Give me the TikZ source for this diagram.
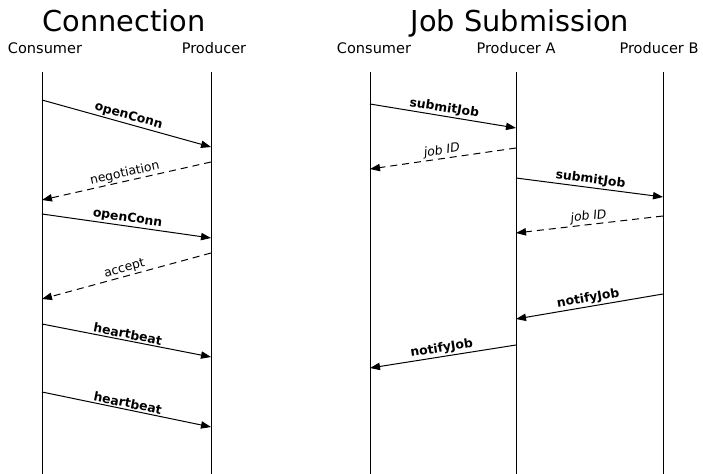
\documentclass[tikz,border=0pt]{standalone}
\usepackage{fontspec}
\setmainfont{DejaVu Sans}
\usetikzlibrary{arrows.meta}

\tikzset{every picture/.style={line width=0.75pt}}
\tikzset{
	title/.style={anchor=base, inner sep=0pt, font=\fontsize{21.6}{26}\selectfont},
	party/.style={anchor=base, inner sep=0pt, font=\fontsize{10.9}{13}\selectfont},
	msg/.style={-{Triangle[length=7.5pt,width=5.5pt]}},
	reply/.style={msg, dash pattern={on 5.25pt off 3.75pt}},
	call/.style={sloped, above, inner sep=1pt, font=\fontsize{9.3}{11}\selectfont\bfseries},
	answer/.style={sloped, above, inner sep=1pt, font=\fontsize{9.3}{11}\selectfont},
	answerit/.style={answer, font=\fontsize{9.3}{11}\selectfont\itshape}}

\begin{document}
\begin{tikzpicture}[x=0.75pt,y=0.75pt]
	\useasboundingbox (0,0) rectangle (703,-474);

	% Text Node
	\node[title] (conntitle) at (124,-32) {Connection};
	% Text Node
	\node[title] (jobtitle) at (520,-32) {Job Submission};
	% Text Node
	\node[party] (consL) at (45,-54) {Consumer};
	% Text Node
	\node[party] (prodL) at (214,-54) {Producer};
	% Text Node
	\node[party] (consR) at (374,-54) {Consumer};
	% Text Node
	\node[party] (prodA) at (516,-54) {Producer A};
	% Text Node
	\node[party] (prodB) at (659,-54) {Producer B};

	%Lifelines
	\coordinate (consLtop) at (42,-72);  \coordinate (consLbot) at (42,-474);
	\coordinate (prodLtop) at (211,-72); \coordinate (prodLbot) at (211,-474);
	\coordinate (consRtop) at (370,-72); \coordinate (consRbot) at (370,-474);
	\coordinate (prodAtop) at (516,-72); \coordinate (prodAbot) at (516,-474);
	\coordinate (prodBtop) at (663,-72); \coordinate (prodBbot) at (663,-474);
	\draw (consLtop) -- (consLbot);
	\draw (prodLtop) -- (prodLbot);
	\draw (consRtop) -- (consRbot);
	\draw (prodAtop) -- (prodAbot);
	\draw (prodBtop) -- (prodBbot);

	%Connection messages
	\coordinate (open1s) at (42,-100);  \coordinate (open1e) at (211,-147);
	\coordinate (nego1s) at (211,-162); \coordinate (nego1e) at (42,-200);
	\coordinate (open2s) at (42,-214);  \coordinate (open2e) at (211,-238);
	\coordinate (acc1s) at (211,-253);  \coordinate (acc1e) at (42,-299);
	\coordinate (beat1s) at (42,-324);  \coordinate (beat1e) at (211,-357);
	\coordinate (beat2s) at (42,-392);  \coordinate (beat2e) at (211,-427);
	%Straight Lines
	\draw[msg] (open1s) -- node[call] (open1) {openConn} (open1e);
	\draw[reply] (nego1s) -- node[answer] (nego1) {negotiation} (nego1e);
	\draw[msg] (open2s) -- node[call] (open2) {openConn} (open2e);
	\draw[reply] (acc1s) -- node[answer] (acc1) {accept} (acc1e);
	\draw[msg] (beat1s) -- node[call] (beat1) {heartbeat} (beat1e);
	\draw[msg] (beat2s) -- node[call] (beat2) {heartbeat} (beat2e);

	%Job submission messages
	\coordinate (sub1s) at (370,-104);  \coordinate (sub1e) at (516,-128);
	\coordinate (jid1s) at (516,-148);  \coordinate (jid1e) at (370,-169);
	\coordinate (sub2s) at (516,-178);  \coordinate (sub2e) at (663,-197);
	\coordinate (jid2s) at (663,-216);  \coordinate (jid2e) at (516,-233);
	\coordinate (not1s) at (663,-294);  \coordinate (not1e) at (516,-319);
	\coordinate (not2s) at (516,-345);  \coordinate (not2e) at (370,-368);
	%Straight Lines
	\draw[msg] (sub1s) -- node[call] (sub1) {submitJob} (sub1e);
	\draw[reply] (jid1s) -- node[answerit] (jid1) {job ID} (jid1e);
	\draw[msg] (sub2s) -- node[call] (sub2) {submitJob} (sub2e);
	\draw[reply] (jid2s) -- node[answerit] (jid2) {job ID} (jid2e);
	\draw[msg] (not1s) -- node[call] (not1) {notifyJob} (not1e);
	\draw[msg] (not2s) -- node[call] (not2) {notifyJob} (not2e);

\end{tikzpicture}
\end{document}
